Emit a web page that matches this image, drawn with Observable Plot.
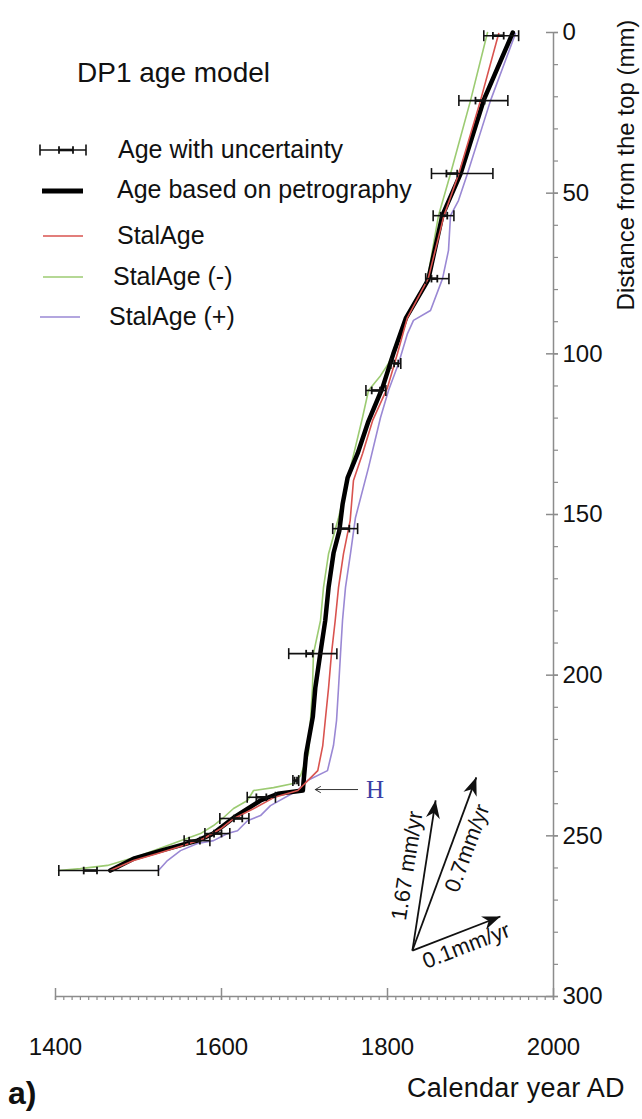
<!DOCTYPE html>
<html><head><meta charset="utf-8">
<script src="https://cdn.jsdelivr.net/npm/d3@7"></script>
<script src="https://cdn.jsdelivr.net/npm/@observablehq/plot@0.6"></script>
<style>
html,body{margin:0;padding:0;background:#fff;overflow:hidden;}
#wrap{position:relative;width:642px;height:1119px;font-family:"Liberation Sans",Arial,sans-serif;color:#111;overflow:hidden;}
#wrap > svg{position:absolute;left:0;top:0;}
.lbl{position:absolute;white-space:nowrap;line-height:1;}
</style></head><body><div id="wrap"></div>
<script>
// ---------- data ----------
const xDomain = [1400, 2000];
const yDomain = [0, 300];
const xTicksMajor = [1400, 1600, 1800, 2000];
const yTicksMajor = [0, 50, 100, 150, 200, 250, 300];
const xMinorStep = 10, yMinorStep = 10;

const seriesNames = ["Age based on petrography", "StalAge", "StalAge (-)", "StalAge (+)"];

const petroYear  = [1951,1916,1888,1866,1849,1822,1807,1794,1777,1764,1752,1746,1742,1735,1729,1725,1719,1713,1710,1702,1699,1698,1668,1647,1615,1590,1571,1527,1494,1466];
const petroDepth = [0,21,44,57,77,89,100,110.5,121,131,138.5,146.6,155,162,172.7,183,193.3,204,213,224.4,232.8,235.9,236.9,239,244.3,249.3,251.5,254.6,257.1,260.8];

const stalYear  = [1934,1912,1886,1868,1849,1824,1812,1800,1782,1770,1759,1755,1747,1741,1737,1732.5,1729,1725,1722,1716,1704,1692,1663,1639,1615,1599,1578,1554,1523,1494,1466];
const stalDepth = [0.3,21.2,43.9,57,76.6,88.7,99.9,110.5,120.8,131,139.4,151.9,162.2,172.7,183,193.3,203.9,214.1,221.9,229.7,232.8,235.9,238.1,241.5,244.6,247.8,250.9,253,255.5,257.7,260.8];

const stalMinusYear  = [1920.5,1900,1876,1861.4,1848.2,1824,1801.2,1791.6,1777.1,1769.9,1755.4,1741,1729,1722.9,1719.3,1710.8,1709.6,1707.2,1704.8,1695.2,1686.7,1662.7,1638.6,1631.3,1614.5,1601.2,1590.4,1574.7,1550.6,1502.4,1462.7,1430.1,1403.6];
const stalMinusDepth = [0,21.2,43.9,57,76.6,88.7,103,106.8,111.4,119.8,135.4,151,162.2,172.7,183,193.3,203.9,214.1,224.4,231.3,233.7,235,235.9,239,241.5,244.6,246.8,249.3,251.5,256.1,259.2,260.2,260.8];

const stalPlusYear  = [1954.2,1924.1,1896.4,1885.5,1875.9,1873.5,1866.3,1851.8,1831.3,1824.1,1813.3,1801.2,1791.6,1777.1,1761.4,1755.4,1749.4,1745.8,1743.4,1741,1738.6,1734.9,1727.7,1703.6,1691.6,1659,1647,1631.3,1619.3,1607.2,1590.4,1571,1550.6,1534.9,1524];
const stalPlusDepth = [0.3,21.2,43.9,52.3,57,67.8,76.6,86.5,89.6,93.7,103,111.4,119.8,135.4,151,162.2,172.7,183,193.3,203.9,214.1,221.9,229.7,232.8,235.9,240.6,243.7,245.3,248.4,249.3,251.5,252.4,254.6,257.7,260.8];

// dated samples: depth, outer (2σ) range and inner (1σ) range
const dateDepth = [1, 21.2, 43.9, 57, 76.6, 103, 111.4, 154.4, 193.3, 232.8, 238, 244.6, 249.3, 251.5, 260.8];
const dateLow2  = [1916, 1886, 1853, 1855, 1846, 1804, 1774, 1734, 1681, 1686, 1631, 1598, 1580, 1555, 1404];
const dateHigh2 = [1958, 1945, 1927, 1880, 1874, 1816, 1798, 1764, 1739, 1693, 1665, 1633, 1610, 1586, 1524];
const dateLow1  = [1927, 1906, 1871, 1864, 1853, 1808, 1781, 1742, 1702, 1688, 1642, 1615, 1591, 1561, 1434];
const dateHigh1 = [1940, 1917, 1884, 1872, 1860, 1813, 1791, 1754, 1710, 1691, 1654, 1625, 1600, 1574, 1450];

// hiatus annotation
const hiatusDepth = [235.6];
const hiatusArrowFrom = [1764];
const hiatusArrowTo = [1713];
const hiatusLabelYear = [1785];
const hiatusLabel = ["H"];

// growth-rate reference arrows
const growthRate = [1.67, 0.7, 0.1];
const growthSpanYears = [28, 77, 106];
const growthLabel = ["1.67 mm/yr", "0.7mm/yr", "0.1mm/yr"];
const growthOriginYear = 1830;
const growthOriginDepth = 285.7;

// ---------- build ----------
const colors = {"Age based on petrography": "#000000", "StalAge": "#d9534f", "StalAge (-)": "#9ccb72", "StalAge (+)": "#9a88d4"};
const grey = "#8c8c8c";
const zip = (ys, ds) => ys.map((y, i) => ({year: y, depth: ds[i]}));
const petro = zip(petroYear, petroDepth);
const stal = zip(stalYear, stalDepth);
const stalMinus = zip(stalMinusYear, stalMinusDepth);
const stalPlus = zip(stalPlusYear, stalPlusDepth);
const dates = dateDepth.map((d, i) => ({depth: d, low2: dateLow2[i], high2: dateHigh2[i], low1: dateLow1[i], high1: dateHigh1[i]}));
const hiatus = hiatusDepth.map((d, i) => ({depth: d, from: hiatusArrowFrom[i], to: hiatusArrowTo[i], ly: hiatusLabelYear[i], label: hiatusLabel[i]}));

const W = 642, Hh = 1119;
const xRange = [55, 553], yRange = [32, 996];
const xs = Plot.scale({x: {domain: xDomain, range: xRange}});
const ys = Plot.scale({y: {domain: yDomain, range: yRange}});

const labelLayout = [{along: 83, perp: 18}, {along: 115, perp: -16}, {along: 52, perp: -15}];
const arrows = growthRate.map((r, i) => {
  const x1 = growthOriginYear, y1 = growthOriginDepth;
  const x2 = x1 + growthSpanYears[i], y2 = y1 - r * growthSpanYears[i];
  const px1 = xs.apply(x1), py1 = ys.apply(y1), px2 = xs.apply(x2), py2 = ys.apply(y2);
  const len = Math.hypot(px2 - px1, py2 - py1), ux = (px2 - px1) / len, uy = (py2 - py1) / len;
  const L = labelLayout[i];
  const cx = px1 + ux * L.along + uy * L.perp, cy = py1 + uy * L.along - ux * L.perp;
  return {x1, y1, x2, y2, label: growthLabel[i],
    headRotate: Math.atan2(ux, -uy) * 180 / Math.PI,
    textRotate: Math.atan2(uy, ux) * 180 / Math.PI,
    lx: xs.invert(cx), ly: ys.invert(cy)};
});

const capV = {draw(ctx, size) { const r = Math.sqrt(size / Math.PI); ctx.moveTo(0, -r); ctx.lineTo(0, r); }};
const headShape = {draw(ctx, l, r) { ctx.moveTo(0, -l); ctx.lineTo(-r, 0); ctx.lineTo(0, -l * 0.3); ctx.lineTo(r, 0); ctx.closePath(); }};

const line = (data, name, w) => Plot.line(data, {x: "year", y: "depth", stroke: colors[name], strokeWidth: w, strokeLinejoin: "round", curve: "linear"});

const chart = Plot.plot({
  width: W, height: Hh,
  marginLeft: 55, marginRight: 89, marginTop: 32, marginBottom: 123,
  style: {fontFamily: "'Liberation Sans', Arial, sans-serif", fontSize: "24px", color: "#111", background: "transparent"},
  x: {domain: xDomain, range: xRange, label: null},
  y: {domain: yDomain, range: yRange, label: null},
  marks: [
    // axes lines
    Plot.ruleY([yDomain[1]], {x1: xDomain[0], x2: xDomain[1], stroke: grey, strokeWidth: 1.5}),
    Plot.ruleX([xDomain[1]], {y1: yDomain[0], y2: yDomain[1], stroke: grey, strokeWidth: 1.5}),
    Plot.axisX(xTicksMajor, {tickSize: 12, dy: -8, fill: "none", stroke: grey, strokeWidth: 1.5, label: null}),
    Plot.axisX(d3.range(xDomain[0], xDomain[1] + 1, xMinorStep), {tickSize: 4, fill: "none", stroke: grey, strokeWidth: 1.2, label: null}),
    Plot.axisX(xTicksMajor, {tickSize: 0, tickPadding: 41, fontSize: 24, fill: "#111", label: null, tickFormat: d => String(d)}),
    Plot.axisY(yTicksMajor, {anchor: "right", tickSize: 12, dx: -8, fill: "none", stroke: grey, strokeWidth: 1.5, label: null}),
    Plot.axisY(d3.range(yDomain[0], yDomain[1] + 1, yMinorStep), {anchor: "right", tickSize: 4, fill: "none", stroke: grey, strokeWidth: 1.2, label: null}),
    Plot.axisY(yTicksMajor, {anchor: "right", tickSize: 0, tickPadding: 9, fontSize: 24, fill: "#111", label: null, tickFormat: d => String(d)}),
    // curves
    line(stalMinus, "StalAge (-)", 1.6),
    line(stalPlus, "StalAge (+)", 1.6),
    line(petro, "Age based on petrography", 4.5),
    line(stal, "StalAge", 1.6),
    // error bars
    Plot.link(dates, {x1: "low2", x2: "high2", y1: "depth", y2: "depth", stroke: "#111", strokeWidth: 1.6}),
    Plot.dot(dates, {x: "low2", y: "depth", symbol: capV, r: 5.5, stroke: "#111", fill: "none", strokeWidth: 1.6}),
    Plot.dot(dates, {x: "high2", y: "depth", symbol: capV, r: 5.5, stroke: "#111", fill: "none", strokeWidth: 1.6}),
    Plot.link(dates, {x1: "low1", x2: "high1", y1: "depth", y2: "depth", stroke: "#111", strokeWidth: 2.6}),
    Plot.dot(dates, {x: "low1", y: "depth", symbol: capV, r: 3.8, stroke: "#111", fill: "none", strokeWidth: 1.8}),
    Plot.dot(dates, {x: "high1", y: "depth", symbol: capV, r: 3.8, stroke: "#111", fill: "none", strokeWidth: 1.8}),
    // hiatus
    Plot.arrow(hiatus, {x1: "from", x2: "to", y1: "depth", y2: "depth", stroke: "#333", strokeWidth: 1, headLength: 9}),
    Plot.text(hiatus, {x: "ly", y: "depth", text: "label", fill: "#3b3fa6", fontSize: 25, fontFamily: "'Liberation Serif', 'DejaVu Serif', serif", textAnchor: "middle", lineAnchor: "middle"}),
    // growth-rate arrows
    Plot.link(arrows, {x1: "x1", y1: "y1", x2: "x2", y2: "y2", stroke: "#111", strokeWidth: 1.8}),
    Plot.vector(arrows, {x: "x2", y: "y2", rotate: "headRotate", length: 18, r: 7, anchor: "end", shape: headShape, fill: "#111", stroke: "none"}),
    Plot.text(arrows, {x: "lx", y: "ly", text: "label", rotate: "textRotate", fontSize: 22, fill: "#111", textAnchor: "middle", lineAnchor: "middle"})
  ]
});

const wrap = document.getElementById("wrap");
wrap.appendChild(chart);

// ---------- legend & titles (HTML overlay) ----------
const lg = `
<svg width="642" height="1119" style="position:absolute;left:0;top:0;pointer-events:none">
  <g stroke="#111" fill="none">
    <line x1="40" x2="86" y1="150" y2="150" stroke-width="1.6"/>
    <line x1="40" x2="40" y1="144.5" y2="155.5" stroke-width="1.6"/>
    <line x1="86" x2="86" y1="144.5" y2="155.5" stroke-width="1.6"/>
    <line x1="59" x2="73" y1="150" y2="150" stroke-width="2.6"/>
    <line x1="59" x2="59" y1="146.2" y2="153.8" stroke-width="1.8"/>
    <line x1="73" x2="73" y1="146.2" y2="153.8" stroke-width="1.8"/>
  </g>
  <line x1="42" x2="83" y1="191" y2="191" stroke="${colors["Age based on petrography"]}" stroke-width="5"/>
  <line x1="43" x2="83" y1="236" y2="236" stroke="${colors["StalAge"]}" stroke-width="1.6"/>
  <line x1="43" x2="83" y1="277" y2="277" stroke="${colors["StalAge (-)"]}" stroke-width="1.6"/>
  <line x1="40" x2="80" y1="317" y2="317" stroke="${colors["StalAge (+)"]}" stroke-width="1.6"/>
</svg>
<div class="lbl" style="left:77px;top:59px;font-size:28px">DP1 age model</div>
<div class="lbl" style="left:118px;top:137px;font-size:25px">Age with uncertainty</div>
<div class="lbl" style="left:117px;top:177px;font-size:25px">${seriesNames[0]}</div>
<div class="lbl" style="left:117px;top:223px;font-size:25px">${seriesNames[1]}</div>
<div class="lbl" style="left:113px;top:264px;font-size:25px">${seriesNames[2]}</div>
<div class="lbl" style="left:109px;top:304px;font-size:25px">${seriesNames[3]}</div>
<div class="lbl" style="left:626px;top:165px;font-size:24px;transform:translate(-50%,-50%) rotate(-90deg)">Distance from the top (mm)</div>
<div class="lbl" style="left:407px;top:1075px;font-size:27px;letter-spacing:0.3px">Calendar year AD</div>
<div class="lbl" style="left:8px;top:1077px;font-size:32px;font-weight:bold">a)</div>
`;
wrap.insertAdjacentHTML("beforeend", lg);
</script>
</body></html>
